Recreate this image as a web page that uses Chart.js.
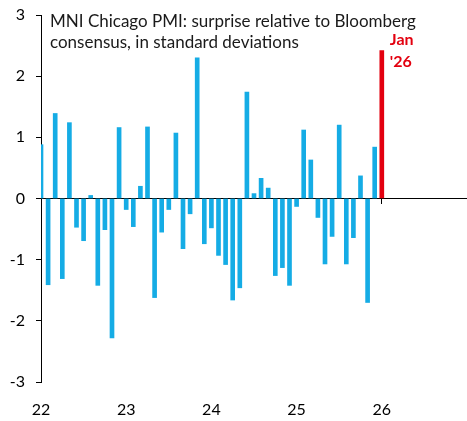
<!DOCTYPE html>
<html>
<head>
<meta charset="utf-8">
<script src="https://cdn.jsdelivr.net/npm/chart.js@4.4.1/dist/chart.umd.min.js"></script>
<style>
  html, body { margin: 0; padding: 0; background: #fff; }
  #wrap { width: 467px; height: 421px; }
</style>
</head>
<body>
<div id="wrap"><canvas id="c" width="467" height="421"></canvas></div>
<script>
// Months (YYYY-MM) and surprise values (standard deviations)
const months = [
  "2022-01","2022-02","2022-03","2022-04","2022-05","2022-06","2022-07","2022-08","2022-09","2022-10","2022-11","2022-12",
  "2023-01","2023-02","2023-03","2023-04","2023-05","2023-06","2023-07","2023-08","2023-09","2023-10","2023-11","2023-12",
  "2024-01","2024-02","2024-03","2024-04","2024-05","2024-06","2024-07","2024-08","2024-09","2024-10","2024-11","2024-12",
  "2025-01","2025-02","2025-03","2025-04","2025-05","2025-06","2025-07","2025-08","2025-09","2025-10","2025-11","2025-12"
];
const surprise = [
  0.88, -1.41, 1.39, -1.31, 1.24, -0.47, -0.69, 0.05, -1.42, -0.51, -2.28, 1.16,
  -0.18, -0.46, 0.20, 1.17, -1.62, -0.55, -0.18, 1.07, -0.82, -0.25, 2.30, -0.74,
  -0.48, -0.93, -1.08, -1.66, -1.46, 1.74, 0.08, 0.33, 0.17, -1.26, -1.13, -1.42,
  -0.13, 1.12, 0.63, -0.31, -1.07, -0.62, 1.20, -1.07, -0.64, 0.37, -1.70, 0.84
];
const latestMonth = "2026-01";
const latestValue = 2.42;
const latestLabel = ["Jan", "'26"];
const xTickLabels = ["22", "23", "24", "25", "26"];
const yTickLabels = ["-3", "-2", "-1", "0", "1", "2", "3"];
const titleLines = ["MNI Chicago PMI: surprise relative to Bloomberg", "consensus, in standard deviations"];

const BLUE = "#15ACE5";
const RED = "#E3000F";
const FONT = "Lato, 'Open Sans', sans-serif";

// decimal 2-digit year from "YYYY-MM"
function toX(m) {
  const [y, mo] = m.split("-").map(Number);
  return (y - 2000) + (mo - 1) / 12;
}
const histData = months.map((m, i) => ({ x: toX(m), y: surprise[i] }));
const latestData = [{ x: toX(latestMonth), y: latestValue }];

const overlayText = {
  id: "overlayText",
  afterDraw(chart) {
    const ctx = chart.ctx;
    const xs = chart.scales.x, ys = chart.scales.y;
    ctx.save();
    ctx.textBaseline = "middle";
    ctx.textAlign = "left";
    ctx.fillStyle = "#1a1a1a";
    ctx.font = "17px " + FONT;
    ctx.fillText(titleLines[0], xs.left + 9, ys.top + 7);
    ctx.fillText(titleLines[1], xs.left + 9, ys.top + 28);
    ctx.fillStyle = RED;
    ctx.font = "bold 16px " + FONT;
    const lx = xs.getPixelForValue(latestData[0].x) + 8;
    ctx.fillText(latestLabel[0], lx, ys.top + 25);
    ctx.fillText(latestLabel[1], lx, ys.top + 47);
    ctx.restore();
  }
};

function build() {
  new Chart(document.getElementById("c"), {
    type: "bar",
    data: {
      datasets: [
        { data: histData, backgroundColor: BLUE, barThickness: 4, grouped: false, xAxisID: "x" },
        { data: latestData, backgroundColor: RED, barThickness: 4, grouped: false, xAxisID: "x" }
      ]
    },
    options: {
      responsive: false,
      animation: false,
      layout: { padding: { top: 15, right: 0, left: 0, bottom: 0 } },
      plugins: { legend: { display: false }, tooltip: { enabled: false }, title: { display: false } },
      scales: {
        x: {
          type: "linear",
          position: "bottom",
          min: 22, max: 27,
          offset: false,
          grid: { display: false, offset: false },
          border: { display: false },
          ticks: {
            stepSize: 1,
            padding: 10,
            color: "#000",
            font: { family: FONT, size: 16 },
            maxRotation: 0,
            autoSkip: false,
            callback: (v) => { const s = String(v); return xTickLabels.includes(s) ? s : ""; }
          },
          afterFit: (s) => { s.height = 39; s.paddingLeft = 0; s.paddingRight = 0; }
        },
        x2: {
          type: "linear",
          position: { y: 0 },
          z: 1,
          min: 22, max: 27,
          offset: false,
          grid: { display: true, drawOnChartArea: false, drawTicks: true, tickLength: 5, tickColor: "#000", tickWidth: 1, offset: false },
          border: { display: false },
          ticks: { display: false, stepSize: 1 },
          afterFit: (s) => { s.paddingLeft = 0; s.paddingRight = 0; }
        },
        y: {
          min: -3, max: 3,
          grid: {
            drawOnChartArea: true,
            drawTicks: true,
            tickLength: 5,
            tickColor: "#000",
            color: (c) => (c.tick && c.tick.value === 0 ? "#000" : "rgba(0,0,0,0)"),
            lineWidth: 1
          },
          border: { display: true, color: "#000", width: 1 },
          ticks: {
            stepSize: 1,
            padding: 11,
            color: "#000",
            font: { family: FONT, size: 16 },
            callback: (v) => { const s = String(v); return yTickLabels.includes(s) ? s : ""; }
          },
          afterFit: (s) => { s.width = 41; s.paddingTop = 0; s.paddingBottom = 0; }
        }
      }
    },
    plugins: [overlayText]
  });
}

if (document.fonts && document.fonts.load) {
  Promise.all([document.fonts.load("16px Lato"), document.fonts.load("bold 16px Lato")]).then(build, build);
} else {
  build();
}
</script>
</body>
</html>
